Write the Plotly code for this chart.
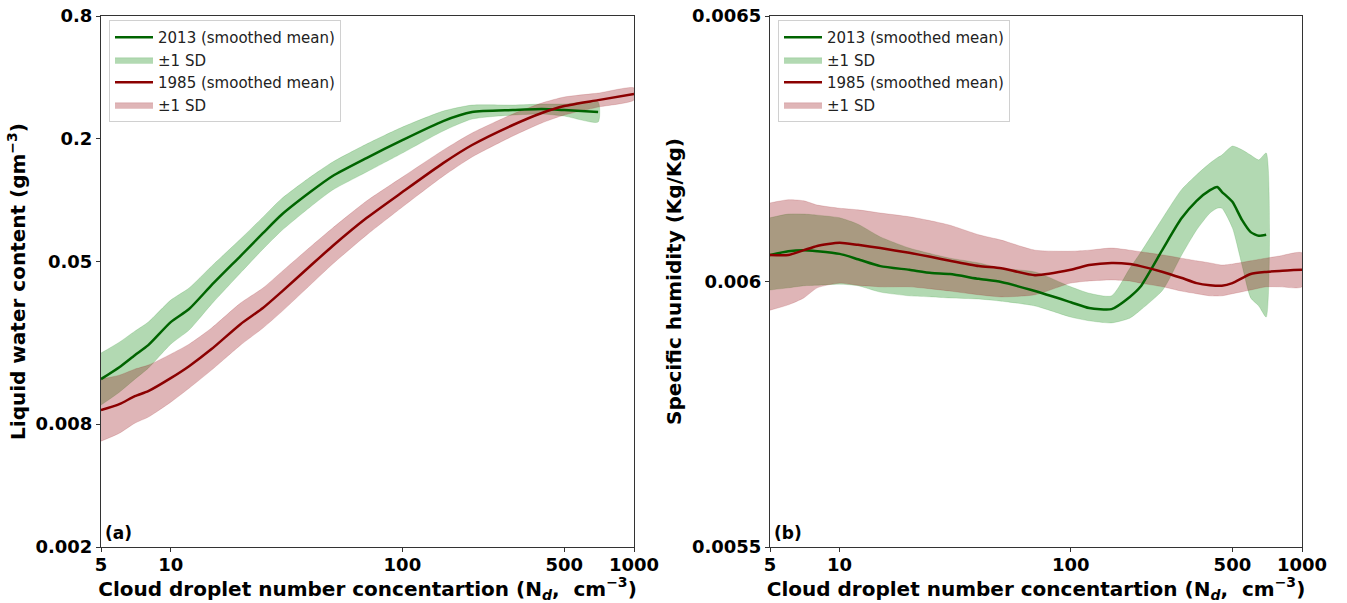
import plotly.graph_objects as go

# ---------------- Panel (a): liquid water content ----------------
a_nd_2013 = [5, 6, 7, 8, 10, 12, 15, 20, 25, 30, 40, 50, 70, 100, 150, 200, 300, 400, 500, 700]
a_mean_2013 = [0.01330, 0.01521, 0.01742, 0.01951, 0.02529, 0.02931, 0.03837, 0.05333, 0.0690, 0.0847,
               0.1097, 0.1315, 0.1610, 0.1972, 0.2445, 0.2706, 0.2768, 0.2800, 0.2768, 0.2706]
a_hi_2013 = [0.01784, 0.02017, 0.02284, 0.02530, 0.03242, 0.03717, 0.04754, 0.06458, 0.0827, 0.1015,
             0.1299, 0.1540, 0.1885, 0.2284, 0.2736, 0.2928, 0.2929, 0.2962, 0.2962, 0.3028]
a_lo_2013 = [0.00992, 0.01147, 0.01329, 0.01504, 0.01973, 0.02312, 0.03097, 0.04404, 0.0576, 0.0707,
             0.0927, 0.1123, 0.1375, 0.1703, 0.2185, 0.2501, 0.2616, 0.2647, 0.2587, 0.2418]

a_nd_1985 = [5, 6, 7, 8, 10, 12, 15, 20, 25, 30, 40, 50, 70, 100, 150, 200, 300, 400, 500, 700, 1000]
a_mean_1985 = [0.00937, 0.01002, 0.01097, 0.01161, 0.01344, 0.01538, 0.01866, 0.02472, 0.02965, 0.03548,
               0.04764, 0.05970, 0.0818, 0.1097, 0.1521, 0.1866, 0.2339, 0.2679, 0.2897, 0.3097, 0.3319]
a_hi_1985 = [0.01330, 0.01390, 0.01488, 0.01557, 0.01762, 0.01972, 0.02366, 0.03135, 0.03715, 0.04446,
             0.05903, 0.07313, 0.0991, 0.1299, 0.1761, 0.2137, 0.2648, 0.2998, 0.3207, 0.3351, 0.3551]
a_lo_1985 = [0.00660, 0.00722, 0.00809, 0.00866, 0.01025, 0.01200, 0.01472, 0.01950, 0.02366, 0.02832,
             0.03845, 0.04873, 0.0675, 0.0927, 0.1313, 0.1630, 0.2066, 0.2394, 0.2617, 0.2862, 0.3102]

# ---------------- Panel (b): specific humidity ----------------
b_nd_2013 = [5, 6, 7, 8, 10, 12, 15, 20, 25, 30, 40, 50, 70, 100, 120, 150, 180, 200, 250, 300,
             350, 400, 430, 450, 500, 550, 600, 650, 700]
b_mean_2013 = [0.006050, 0.006057, 0.006059, 0.006057, 0.006052, 0.006042, 0.006029, 0.006022, 0.006016,
               0.006014, 0.006005, 0.005999, 0.005982, 0.005961, 0.005950, 0.005948, 0.005971, 0.005990,
               0.006061, 0.006118, 0.006152, 0.006172, 0.006178, 0.006169, 0.006150, 0.006116, 0.006093,
               0.006086, 0.006088]
b_hi_2013 = [0.006120, 0.006127, 0.006127, 0.006125, 0.006120, 0.006108, 0.006084, 0.006063, 0.006052,
             0.006044, 0.006035, 0.006025, 0.006018, 0.005990, 0.005978, 0.005973, 0.006025, 0.006054,
             0.006120, 0.006172, 0.006201, 0.006223, 0.006233, 0.006238, 0.006255, 0.006248, 0.006238,
             0.006229, 0.006242]
b_lo_2013 = [0.005984, 0.005988, 0.005992, 0.005993, 0.005995, 0.005992, 0.005980, 0.005973, 0.005971,
             0.005969, 0.005967, 0.005963, 0.005954, 0.005933, 0.005926, 0.005922, 0.005931, 0.005946,
             0.005984, 0.006048, 0.006097, 0.006129, 0.006138, 0.006138, 0.006101, 0.006031, 0.005969,
             0.005954, 0.005933]

b_nd_1985 = [5, 6, 7, 8, 10, 12, 15, 20, 25, 30, 40, 50, 70, 100, 120, 150, 180, 200, 250, 300,
             350, 400, 450, 500, 600, 700, 800, 1000]
b_mean_1985 = [0.006050, 0.006050, 0.006059, 0.006067, 0.006073, 0.006069, 0.006063, 0.006054, 0.006046,
               0.006039, 0.006029, 0.006025, 0.006012, 0.006022, 0.006031, 0.006035, 0.006033, 0.006029,
               0.006018, 0.006007, 0.005997, 0.005993, 0.005992, 0.005997, 0.006014, 0.006018, 0.006020,
               0.006022]
b_hi_1985 = [0.006148, 0.006154, 0.006152, 0.006144, 0.006138, 0.006135, 0.006129, 0.006122, 0.006114,
             0.006106, 0.006088, 0.006078, 0.006059, 0.006057, 0.006059, 0.006063, 0.006059, 0.006056,
             0.006050, 0.006044, 0.006039, 0.006035, 0.006031, 0.006033, 0.006039, 0.006044, 0.006048,
             0.006054]
b_lo_1985 = [0.005946, 0.005956, 0.005969, 0.005988, 0.005997, 0.005993, 0.005990, 0.005990, 0.005986,
             0.005982, 0.005975, 0.005971, 0.005975, 0.005997, 0.006001, 0.006003, 0.006001, 0.005997,
             0.005990, 0.005982, 0.005977, 0.005973, 0.005973, 0.005977, 0.005984, 0.005990, 0.005990,
             0.005990]

GREEN_LINE = "#006400"
GREEN_FILL = "rgba(0,128,0,0.3)"
RED_LINE = "#8B0000"
RED_FILL = "rgba(150,10,15,0.3)"
FONT = "DejaVu Sans"

fig = go.Figure()


def add_panel(xa, ya, leg, nd13, m13, lo13, hi13, nd85, m85, lo85, hi85):
    band13 = go.Scatter(x=nd13 + nd13[::-1], y=hi13 + lo13[::-1], fill="toself",
                        fillcolor=GREEN_FILL, line=dict(color=GREEN_FILL, width=0.5, shape="spline", smoothing=0.6),
                        mode="lines", name="±1 SD", legendrank=2,
                        xaxis=xa, yaxis=ya, legend=leg, hoverinfo="skip")
    band85 = go.Scatter(x=nd85 + nd85[::-1], y=hi85 + lo85[::-1], fill="toself",
                        fillcolor=RED_FILL, line=dict(color=RED_FILL, width=0.5, shape="spline", smoothing=0.6),
                        mode="lines", name="±1 SD", legendrank=4,
                        xaxis=xa, yaxis=ya, legend=leg, hoverinfo="skip")
    line13 = go.Scatter(x=nd13, y=m13, mode="lines",
                        line=dict(color=GREEN_LINE, width=2.5, shape="spline", smoothing=0.6),
                        name="2013 (smoothed mean)", legendrank=1,
                        xaxis=xa, yaxis=ya, legend=leg)
    line85 = go.Scatter(x=nd85, y=m85, mode="lines",
                        line=dict(color=RED_LINE, width=2.5, shape="spline", smoothing=0.6),
                        name="1985 (smoothed mean)", legendrank=3,
                        xaxis=xa, yaxis=ya, legend=leg)
    for t in (band13, band85, line13, line85):
        fig.add_trace(t)


add_panel("x", "y", "legend", a_nd_2013, a_mean_2013, a_lo_2013, a_hi_2013,
          a_nd_1985, a_mean_1985, a_lo_1985, a_hi_1985)
add_panel("x2", "y2", "legend2", b_nd_2013, b_mean_2013, b_lo_2013, b_hi_2013,
          b_nd_1985, b_mean_1985, b_lo_1985, b_hi_1985)

x_tickvals = [5, 10, 100, 500, 1000]
x_ticktext = ["5", "10", "100", "500", "1000"]
a_y_tickvals = [0.002, 0.008, 0.05, 0.2, 0.8]
a_y_ticktext = ["0.002", "0.008", "0.05", "0.2", "0.8"]
b_y_tickvals = [0.0055, 0.006, 0.0065]
b_y_ticktext = ["0.0055", "0.006", "0.0065"]

W, H = 1347, 603
axcommon = dict(showline=True, mirror=True, linecolor="#333", linewidth=1, ticks="outside",
                ticklen=4, tickcolor="#333", showgrid=False, zeroline=False,
                tickfont=dict(family=FONT, size=18, color="black", weight="bold"),
                automargin=False)
xtitle = "Cloud droplet number concentartion (N<sub><i>d</i></sub>,  cm<sup>−3</sup>)"
titlefont = dict(family=FONT, size=20, color="black", weight="bold")

legcommon = dict(xanchor="left", yanchor="top", itemwidth=38,
                 bgcolor="rgba(255,255,255,0.8)", bordercolor="#d0d0d0", borderwidth=1,
                 font=dict(family=FONT, size=15, color="#222"), traceorder="normal")

fig.update_layout(
    width=W, height=H, margin=dict(l=0, r=0, t=0, b=0),
    plot_bgcolor="white", paper_bgcolor="white",
    font=dict(family=FONT, color="black"),
    xaxis=dict(type="log", domain=[101 / W, 634 / W], range=[0.69897, 3.0],
               tickvals=x_tickvals, ticktext=x_ticktext, anchor="y", ticklabelstandoff=-3,
               title=dict(text=xtitle, font=titlefont, standoff=0), **axcommon),
    yaxis=dict(type="log", domain=[56 / H, 587 / H], range=[-2.69897, -0.09691],
               tickvals=a_y_tickvals, ticktext=a_y_ticktext, anchor="x",
               title=dict(text="Liquid water content (gm<sup>−3</sup>)", font=titlefont, standoff=4),
               **axcommon),
    xaxis2=dict(type="log", domain=[770 / W, 1302 / W], range=[0.69897, 3.0],
                tickvals=x_tickvals, ticktext=x_ticktext, anchor="y2", ticklabelstandoff=-3,
                title=dict(text=xtitle, font=titlefont, standoff=0), **axcommon),
    yaxis2=dict(domain=[56 / H, 587 / H], range=[0.0055, 0.0065],
                tickvals=b_y_tickvals, ticktext=b_y_ticktext, anchor="x2",
                title=dict(text="Specific humidity (Kg/Kg)", font=titlefont, standoff=4),
                **axcommon),
    legend=dict(x=109 / W, y=(H - 20) / H, **legcommon),
    legend2=dict(x=778 / W, y=(H - 20) / H, **legcommon),
    annotations=[
        dict(text="(a)", xref="paper", yref="paper", x=103 / W, y=(H - 533) / H,
             xanchor="left", yanchor="middle", showarrow=False,
             font=dict(family=FONT, size=17, color="black", weight="bold")),
        dict(text="(b)", xref="paper", yref="paper", x=772 / W, y=(H - 533) / H,
             xanchor="left", yanchor="middle", showarrow=False,
             font=dict(family=FONT, size=17, color="black", weight="bold")),
    ],
)

fig.write_html("out.html", config={"displayModeBar": False},
               post_script="document.body.style.margin='0';document.body.style.padding='0';")
